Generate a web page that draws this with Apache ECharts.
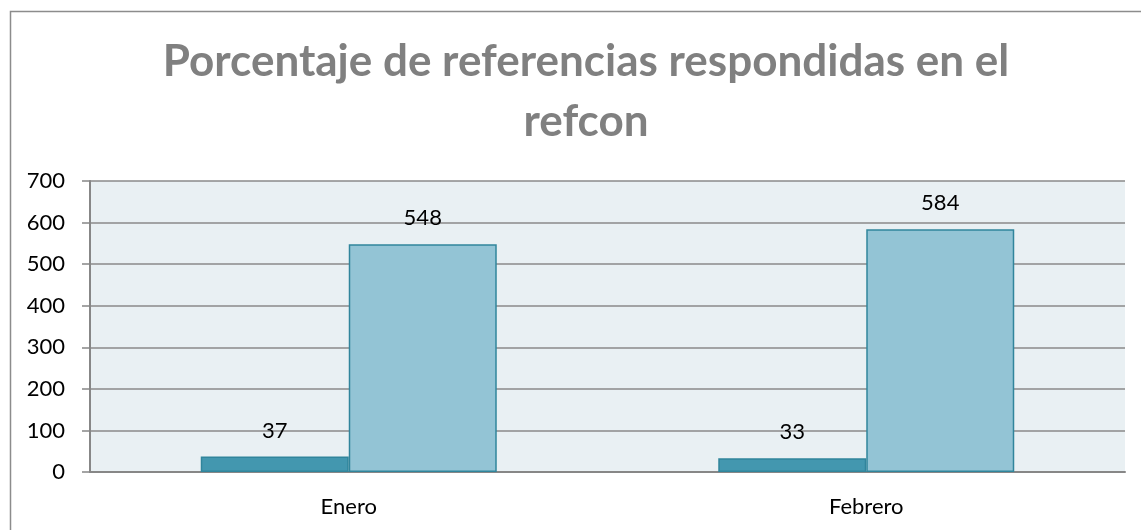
<!DOCTYPE html>
<html>
<head>
<meta charset="utf-8">
<script src="https://cdn.jsdelivr.net/npm/echarts@6/dist/echarts.min.js"></script>
<style>
  html, body { margin: 0; padding: 0; background: #fff; }
  #chart { width: 1141px; height: 530px; }
</style>
</head>
<body>
<div id="chart"></div>
<script>
// 数据
const titleText = "Porcentaje de referencias respondidas en el\nrefcon";
const months = ["Enero", "Febrero"];
const serieA = [37, 33];
const serieB = [548, 584];

(function () {
  const myChart = echarts.init(document.getElementById("chart"));
  const labelStyle = {
    show: true,
    position: "top",
    distance: 15,
    color: "#000",
    fontSize: 22,
    fontFamily: "Lato"
  };
  const option = {
    animation: false,
    title: {
      text: titleText,
      left: 581,
      top: 27,
      textAlign: "center",
      textStyle: {
        fontFamily: "Lato",
        fontWeight: "bold",
        fontSize: 44,
        lineHeight: 60,
        color: "#808080"
      }
    },
    graphic: [
      {
        type: "rect",
        left: 8,
        top: 9,
        shape: { width: 1300, height: 700 },
        style: { fill: "none", stroke: "#8c8c8c", lineWidth: 1.5 },
        silent: true
      }
    ],
    grid: {
      left: 90,
      right: 16,
      top: 181,
      bottom: 58,
      show: true,
      backgroundColor: "#E9F0F3",
      borderWidth: 0
    },
    xAxis: {
      type: "category",
      data: months,
      axisTick: { show: false },
      axisLine: {
        show: true,
        lineStyle: { color: "#878787", width: 2 }
      },
      axisLabel: {
        color: "#000",
        fontSize: 22,
        fontFamily: "Lato",
        margin: 24
      }
    },
    yAxis: {
      type: "value",
      min: 0,
      max: 700,
      interval: 100,
      axisLine: {
        show: true,
        lineStyle: { color: "#878787", width: 2 }
      },
      axisTick: {
        show: true,
        length: 8,
        lineStyle: { color: "#878787", width: 1.5 }
      },
      axisLabel: {
        color: "#000",
        fontSize: 22,
        fontFamily: "Lato",
        margin: 25
      },
      splitLine: {
        lineStyle: { color: "#8a8a8a", width: 1.5 }
      }
    },
    series: [
      {
        type: "bar",
        data: serieA,
        barWidth: 148,
        barGap: "0%",
        itemStyle: {
          color: "#4397AF",
          borderColor: "#31859C",
          borderWidth: 1.5
        },
        label: labelStyle
      },
      {
        type: "bar",
        data: serieB,
        barWidth: 148,
        barGap: "0%",
        itemStyle: {
          color: "#93C4D5",
          borderColor: "#31859C",
          borderWidth: 1.5
        },
        label: labelStyle
      }
    ]
  };
  myChart.setOption(option);

  window.addEventListener("resize", () => {
    myChart.resize();
  });
})();
</script>
</body>
</html>
